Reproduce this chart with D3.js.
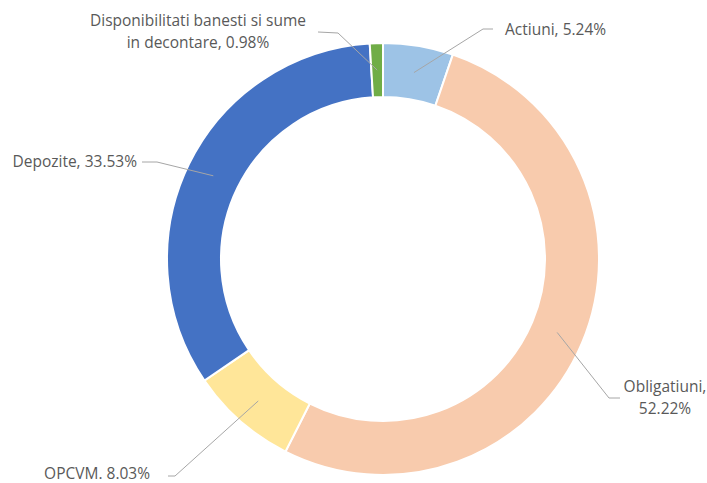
<!DOCTYPE html>
<html>
<head>
<meta charset="utf-8">
<script src="https://cdn.jsdelivr.net/npm/d3@7"></script>
<style>
  html, body { margin: 0; padding: 0; background: #fff; }
  svg text { font-family: "Open Sans", "Liberation Sans", sans-serif; }
</style>
</head>
<body>
<svg id="chart" width="707" height="483"></svg>
<script>
// Portfolio structure, clockwise from 12 o'clock
const categories = ["Actiuni", "Obligatiuni", "OPCVM", "Depozite", "Disponibilitati banesti si sume in decontare"];
const shares = [5.24, 52.22, 8.03, 33.53, 0.98];
const labelLines = [
  ["Actiuni, 5.24%"],
  ["Obligatiuni,", "52.22%"],
  ["OPCVM. 8.03%"],
  ["Depozite, 33.53%"],
  ["Disponibilitati banesti si sume", "in decontare, 0.98%"]
];
const colors = ["#9DC3E6", "#F8CBAD", "#FFE699", "#4472C4", "#70AD47"];

// Label placement: text anchor point, alignment, and where the leader line meets the text
const labelLayout = [
  { x: 505, y: 30, anchor: "start", elbow: [483, 29], end: [493, 29] },
  { x: 665, y: 387, anchor: "middle", elbow: [609, 398], end: [620, 398] },
  { x: 150, y: 474, anchor: "end", elbow: [175, 476], end: [168, 476] },
  { x: 137, y: 162, anchor: "end", elbow: [157, 162], end: [142, 162] },
  { x: 198, y: 21, anchor: "middle", elbow: [338, 33], end: [318, 32] }
];

const svg = d3.select("#chart");
const cx = 383, cy = 259, outerR = 216, innerR = 162;

const pie = d3.pie().sort(null).value(d => d.value);
const arcs = pie(categories.map((c, i) => ({ name: c, value: shares[i], i })));

const arc = d3.arc().innerRadius(innerR).outerRadius(outerR);
const midArc = d3.arc().innerRadius((innerR + outerR) / 2).outerRadius((innerR + outerR) / 2);

const g = svg.append("g").attr("transform", `translate(${cx},${cy})`);

g.selectAll("path.slice")
  .data(arcs)
  .join("path")
  .attr("class", "slice")
  .attr("d", arc)
  .attr("fill", d => colors[d.data.i])
  .attr("stroke", "#fff")
  .attr("stroke-width", 2);

// Leader lines from the slice centroid to the label
svg.selectAll("polyline.leader")
  .data(arcs)
  .join("polyline")
  .attr("class", "leader")
  .attr("points", d => {
    const [mx, my] = midArc.centroid(d);
    const L = labelLayout[d.data.i];
    return [[cx + mx, cy + my], L.elbow, L.end].map(p => p.join(",")).join(" ");
  })
  .attr("fill", "none")
  .attr("stroke", "#A6A6A6")
  .attr("stroke-width", 1);

// Labels
const lineH = 21.5;
svg.selectAll("text.label")
  .data(arcs)
  .join("text")
  .attr("class", "label")
  .attr("text-anchor", d => labelLayout[d.data.i].anchor)
  .attr("fill", "#595959")
  .attr("font-size", 15.5)
  .each(function (d) {
    const L = labelLayout[d.data.i];
    d3.select(this).selectAll("tspan")
      .data(labelLines[d.data.i])
      .join("tspan")
      .attr("x", L.x)
      .attr("y", (t, k) => L.y + k * lineH)
      .attr("dy", "0.35em")
      .text(t => t);
  });
</script>
</body>
</html>
